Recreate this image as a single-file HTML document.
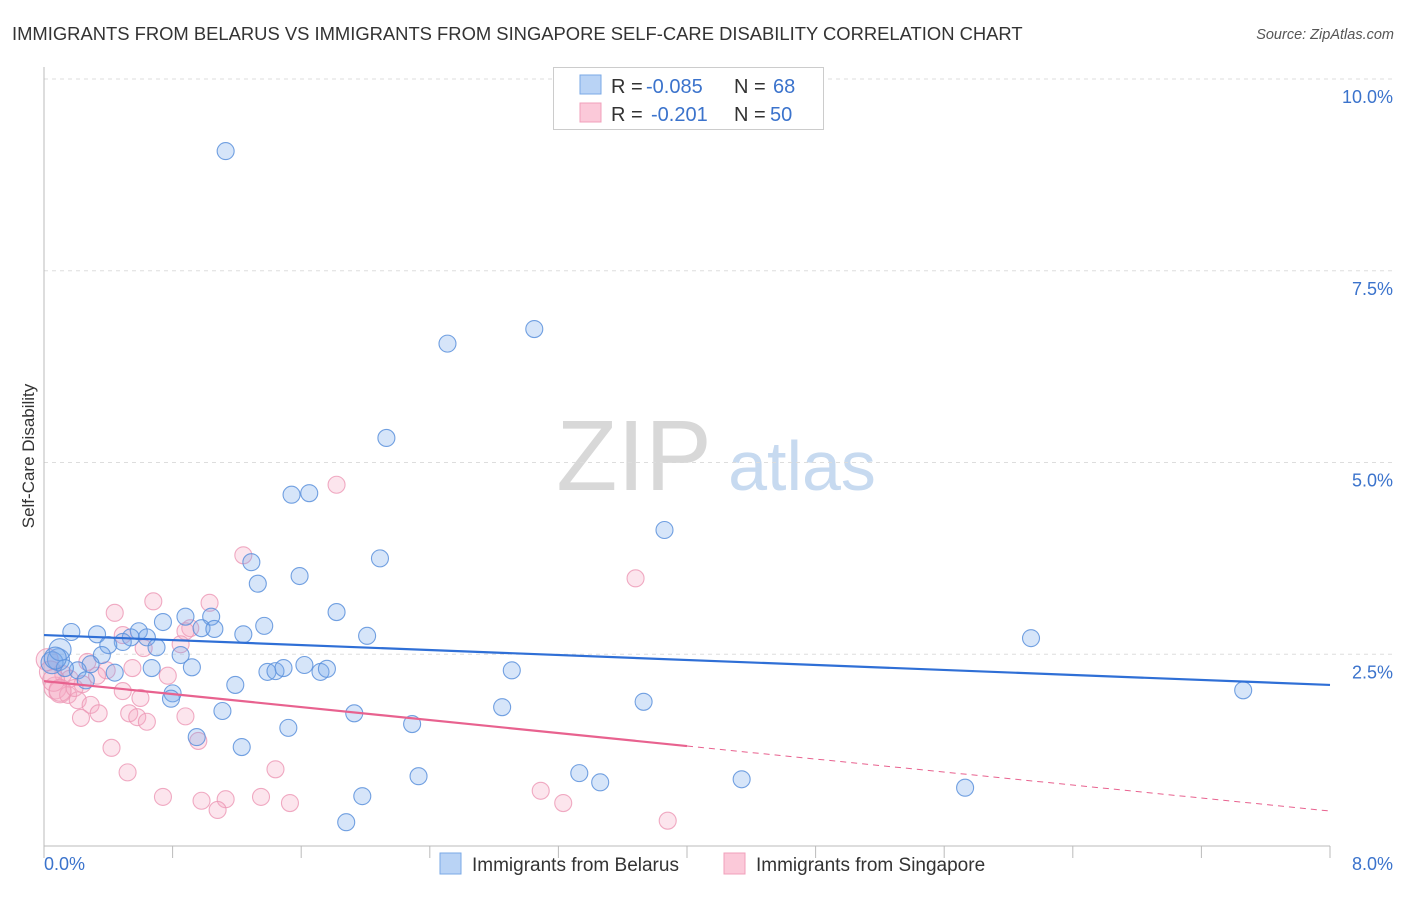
<!DOCTYPE html>
<html><head><meta charset="utf-8"><style>
body{margin:0;background:#fff;font-family:"Liberation Sans",sans-serif;}
svg text{font-family:"Liberation Sans",sans-serif;}
</style></head><body>
<svg id="chart" width="1406" height="892">
<text x="12" y="40" font-size="18.4" fill="#333">IMMIGRANTS FROM BELARUS VS IMMIGRANTS FROM SINGAPORE SELF-CARE DISABILITY CORRELATION CHART</text>
<text x="1394" y="39" font-size="14.5" fill="#555" font-style="italic" text-anchor="end">Source: ZipAtlas.com</text>
<text transform="translate(34,456) rotate(-90)" font-size="17" fill="#333" text-anchor="middle">Self-Care Disability</text>
<g>
<text x="634" y="490" font-size="100" fill="#d8d8d8" font-family="Liberation Serif" text-anchor="middle">ZIP</text>
<text x="802" y="490" font-size="70" fill="#c7daf0" text-anchor="middle">atlas</text>
</g>
<g id="grid"></g><g id="axes"></g><g id="pts"></g><g id="trends"></g>
<g>
<rect x="553.5" y="67.5" width="270" height="62" fill="#fff" stroke="#ccc"/>
<rect x="580" y="75" width="21" height="19" fill="#b9d3f5" stroke="#7aa8e6"/>
<rect x="580" y="103" width="21" height="19" fill="#fbc9d9" stroke="#f0a0bb"/>
<text x="611" y="93" font-size="20" fill="#333">R = <tspan x="646" fill="#3b73cc">-0.085</tspan><tspan x="734">N = </tspan><tspan x="773" fill="#3b73cc">68</tspan></text>
<text x="611" y="121" font-size="20" fill="#333">R = <tspan x="651" fill="#3b73cc">-0.201</tspan><tspan x="734">N = </tspan><tspan x="770" fill="#3b73cc">50</tspan></text>
</g>
<g>
<rect x="440" y="853" width="21" height="21" fill="#b9d3f5" stroke="#7aa8e6"/>
<text x="472" y="871" font-size="19" fill="#333">Immigrants from Belarus</text>
<rect x="724" y="853" width="21" height="21" fill="#fbc9d9" stroke="#f0a0bb"/>
<text x="756" y="871" font-size="19" fill="#333">Immigrants from Singapore</text>
</g>
</svg>
<script>
const yTicks=[2.5,5.0,7.5,10.0];
const xTickLabels=["0.0%","8.0%"];
const belarusX=[1.13,2.51,3.05,2.13,1.54,1.65,3.86,2.09,1.29,1.59,1.33,1.82,0.88,0.74,1.04,1.37,0.98,1.06,1.24,2.01,0.17,0.33,0.59,0.54,0.64,0.49,0.40,0.70,0.36,0.85,0.92,0.67,0.29,0.44,0.21,1.39,1.44,1.49,1.62,1.72,1.76,2.91,6.14,7.46,1.19,0.80,0.79,1.11,1.93,2.85,3.73,2.29,1.52,0.95,1.23,2.33,3.33,3.46,4.34,5.73,1.98,1.88,0.09,0.05,0.13,0.26,0.10,0.07];
const belarusY=[9.06,6.55,6.74,5.32,4.58,4.60,4.12,3.75,3.70,3.52,3.42,3.05,2.99,2.92,2.99,2.87,2.84,2.83,2.76,2.74,2.79,2.76,2.80,2.72,2.72,2.66,2.62,2.59,2.49,2.49,2.33,2.32,2.37,2.26,2.29,2.27,2.28,2.32,2.36,2.27,2.31,2.29,2.71,2.03,2.10,1.99,1.92,1.76,1.73,1.81,1.88,1.59,1.54,1.42,1.29,0.91,0.95,0.83,0.87,0.76,0.65,0.31,2.43,2.39,2.32,2.16,2.56,2.45];
const singX=[1.82,1.24,3.68,0.68,1.03,0.44,0.91,0.49,0.88,0.85,0.62,0.55,0.39,0.33,0.77,0.12,0.16,0.24,0.49,0.60,0.07,0.10,0.15,0.21,0.29,0.34,0.53,0.58,0.64,0.88,0.23,0.42,0.52,0.96,1.44,0.74,0.98,1.13,1.35,1.53,1.08,3.09,3.23,3.88,0.02,0.04,0.06,0.27,0.10,0.19];
const singY=[4.71,3.79,3.49,3.19,3.17,3.04,2.84,2.75,2.80,2.63,2.58,2.32,2.29,2.22,2.22,2.24,2.18,2.11,2.02,1.93,2.06,2.01,1.97,1.90,1.84,1.73,1.73,1.68,1.62,1.69,1.67,1.28,0.96,1.37,1.00,0.64,0.59,0.61,0.64,0.56,0.47,0.72,0.56,0.33,2.43,2.27,2.16,2.40,2.03,2.06];
const belarusTrend=[2.75,2.10];
const singTrend=[2.15,0.456];
const singSolidEnd=4.0;

const NS="http://www.w3.org/2000/svg";
const X0=44,X1=1330,Y0=846,YPER=76.7;
const sx=v=>X0+v/8*(X1-X0);
const sy=v=>Y0-v*YPER;
function mk(tag,attrs,parent){const e=document.createElementNS(NS,tag);for(const k in attrs)e.setAttribute(k,attrs[k]);parent.appendChild(e);return e;}
const grid=document.getElementById('grid'),axes=document.getElementById('axes'),pts=document.getElementById('pts'),tr=document.getElementById('trends');
yTicks.forEach(t=>{
  const l=mk('line',{x1:X0,x2:1394,y1:sy(t),y2:sy(t),stroke:'#ddd','stroke-dasharray':'4,4'},grid);
  
  
  const tx=mk('text',{x:1393,y:sy(t)+24,'font-size':18,fill:'#3b73cc','text-anchor':'end'},grid);
  tx.textContent=t.toFixed(1)+'%';
  
  
});
const ax=mk('line',{x1:X0,x2:X0,y1:67,y2:Y0,stroke:'#bbb'},axes);


const bx=mk('line',{x1:X0,x2:X1,y1:Y0,y2:Y0,stroke:'#bbb'},axes);


for(let i=0;i<=10;i++){
  const t=mk('line',{x1:sx(i*0.8),x2:sx(i*0.8),y1:Y0,y2:Y0+12,stroke:'#bbb'},axes);
  
  
}
[[0,'start',X0],[8,'end',1393]].forEach((a,i)=>{
  const t=mk('text',{x:a[2],y:870,'font-size':18,fill:'#3b73cc','text-anchor':a[1]},axes);
  t.textContent=xTickLabels[i];
  
  
});
function dots(xs,ys,fill,stroke,name){
  xs.forEach((x,i)=>{
    const r=(x<0.12)?11:8.5;
    const c=mk('circle',{cx:sx(x),cy:sy(ys[i]),r:r,fill:fill,stroke:stroke,'stroke-width':1.1},pts);
    
    
  });
}
dots(singX,singY,'rgba(246,170,196,0.3)','rgba(236,150,180,0.8)','point-singapore');
dots(belarusX,belarusY,'rgba(120,170,235,0.3)','rgba(90,145,220,0.85)','point-belarus');
const bl=mk('line',{x1:sx(0),y1:sy(belarusTrend[0]),x2:sx(8),y2:sy(belarusTrend[1]),stroke:'#2f6fd6','stroke-width':2.2},tr);


const sAt=v=>singTrend[0]+(singTrend[1]-singTrend[0])*v/8;
const s1=mk('line',{x1:sx(0),y1:sy(sAt(0)),x2:sx(singSolidEnd),y2:sy(sAt(singSolidEnd)),stroke:'#e8628f','stroke-width':2.2},tr);


const s2=mk('line',{x1:sx(singSolidEnd),y1:sy(sAt(singSolidEnd)),x2:sx(8),y2:sy(sAt(8)),stroke:'#e8628f','stroke-width':1,'stroke-dasharray':'6,5'},tr);


</script>
</body></html>
